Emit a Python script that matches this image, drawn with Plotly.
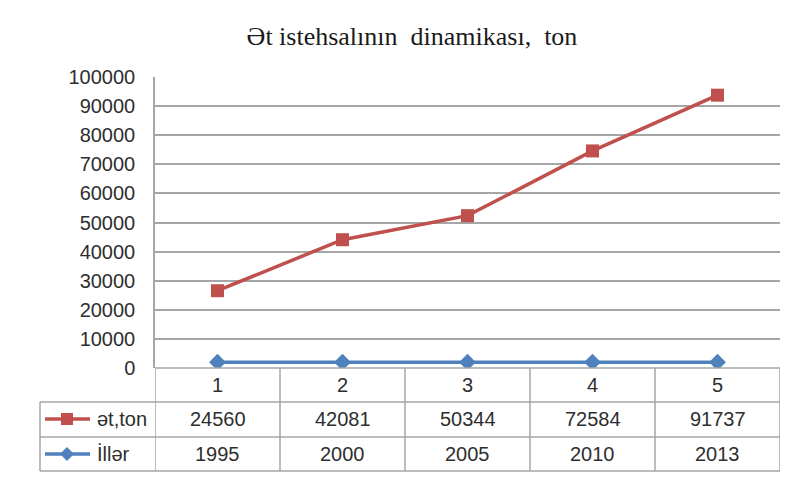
import plotly.graph_objects as go

categories = ["1", "2", "3", "4", "5"]
meat_ton = [24560, 42081, 50344, 72584, 91737]
years = [1995, 2000, 2005, 2010, 2013]
y_ticks = [0, 10000, 20000, 30000, 40000, 50000, 60000, 70000, 80000, 90000, 100000]
title_text = "Ət istehsalının  dinamikası,  ton"
name_meat = "ət,ton"
name_years = "İllər"

RED = "#c0504d"
BLUE = "#4f81bd"
GRID = "#a6a6a6"
TXT = "#2e2e2e"
FONT = "Liberation Sans"
FS = 20

OFF = 8  # page body margin
W, H = 800 - OFF, 479 - OFF
# target screen-pixel geometry
PL, PR, PT, PB = 155, 780, 77, 368
L = PL - OFF
R = W - (PR - OFF)
T = PT - OFF
B = H - (PB - OFF)
plot_h = PB - PT
plot_w = PR - PL

def py(pix):
    # screen pixel y -> paper y
    return (PB - pix) / plot_h

def px(pix):
    return (pix - PL) / plot_w

xs = list(range(len(categories)))

fig = go.Figure()
fig.add_trace(go.Scatter(
    x=xs, y=years, name=name_years, mode="lines+markers",
    stackgroup="s", fill="none",
    line=dict(color=BLUE, width=3.5),
    marker=dict(symbol="diamond", size=13, color=BLUE),
))
fig.add_trace(go.Scatter(
    x=xs, y=meat_ton, name=name_meat, mode="lines+markers",
    stackgroup="s", fill="none",
    line=dict(color=RED, width=3.5),
    marker=dict(symbol="square", size=13, color=RED),
))

shapes = []
annotations = []

row_tops = [368, 402, 437, 471]
x_left_table = 40
col_lines = [i - 0.5 for i in range(len(categories) + 1)]
for cx in col_lines:
    shapes.append(dict(type="line", xref="x", yref="paper", x0=cx, x1=cx, y0=py(368), y1=py(471),
                       line=dict(color=GRID, width=1.5)))
for i, ry in enumerate(row_tops):
    if i == 0:
        shapes.append(dict(type="line", xref="x", yref="paper", x0=-0.5, x1=4.5, y0=py(ry), y1=py(ry),
                           line=dict(color=GRID, width=1.5)))
    else:
        shapes.append(dict(type="line", xref="paper", yref="paper", x0=px(x_left_table), x1=px(780),
                           y0=py(ry), y1=py(ry), line=dict(color=GRID, width=1.5)))
shapes.append(dict(type="line", xref="paper", yref="paper", x0=px(x_left_table), x1=px(x_left_table),
                   y0=py(402), y1=py(471), line=dict(color=GRID, width=1.5)))

# legend keys in table
for (yc, col, sym) in [(419, RED, "square"), (454, BLUE, "diamond")]:
    shapes.append(dict(type="line", xref="paper", yref="paper", x0=px(45), x1=px(90), y0=py(yc), y1=py(yc),
                       line=dict(color=col, width=3.5)))
    if sym == "square":
        shapes.append(dict(type="rect", xref="paper", yref="paper", x0=px(61), x1=px(73),
                           y0=py(yc + 6), y1=py(yc - 6), fillcolor=col, line=dict(width=0)))
    else:
        path = "M {} {} L {} {} L {} {} L {} {} Z".format(
            px(67), py(yc - 7), px(74), py(yc), px(67), py(yc + 7), px(60), py(yc))
        shapes.append(dict(type="path", xref="paper", yref="paper", path=path, fillcolor=col, line=dict(width=0)))

annotations.append(dict(text=name_meat, xref="paper", yref="paper", x=px(95), y=py(419), xanchor="left",
                        yanchor="middle", showarrow=False, font=dict(family=FONT, size=FS, color=TXT)))
annotations.append(dict(text=name_years, xref="paper", yref="paper", x=px(95), y=py(454), xanchor="left",
                        yanchor="middle", showarrow=False, font=dict(family=FONT, size=FS, color=TXT)))

for i, c in enumerate(categories):
    annotations.append(dict(text=c, xref="x", yref="paper", x=i, y=py(385), yanchor="middle",
                            showarrow=False, font=dict(family=FONT, size=FS, color=TXT)))
    annotations.append(dict(text=str(meat_ton[i]), xref="x", yref="paper", x=i, y=py(419), yanchor="middle",
                            showarrow=False, font=dict(family=FONT, size=FS, color=TXT)))
    annotations.append(dict(text=str(years[i]), xref="x", yref="paper", x=i, y=py(454), yanchor="middle",
                            showarrow=False, font=dict(family=FONT, size=FS, color=TXT)))

fig.update_layout(
    width=W, height=H,
    margin=dict(l=L, r=R, t=T, b=B),
    paper_bgcolor="white", plot_bgcolor="white",
    showlegend=False,
    title=dict(text=title_text, x=(412 - OFF) / W, xanchor="center", y=1 - (36 - OFF) / H, yanchor="middle",
               font=dict(family="Liberation Serif", size=26, color="#1a1a1a")),
    xaxis=dict(range=[-0.5, 4.5], showgrid=False, showticklabels=False, zeroline=False,
               showline=False, ticks=""),
    yaxis=dict(range=[0, 100000], tickvals=y_ticks, ticktext=[str(v) for v in y_ticks],
               showgrid=True, gridcolor=GRID, gridwidth=1.5, zeroline=False,
               showline=True, linecolor=GRID, linewidth=1.5, ticks="",
               tickfont=dict(family=FONT, size=FS, color=TXT), ticklabelstandoff=14),
    shapes=shapes,
    annotations=annotations,
)

fig.write_html("out.html")
